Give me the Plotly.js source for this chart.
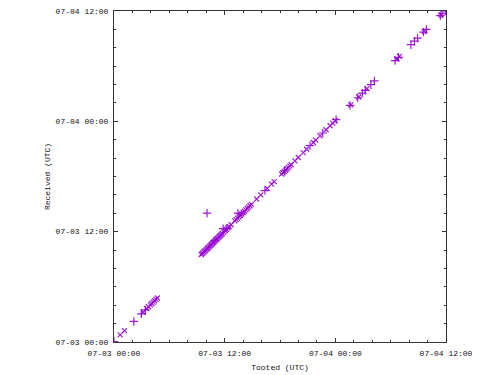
<!DOCTYPE html>
<html>
<head>
<meta charset="utf-8">
<script src="https://cdn.plot.ly/plotly-3.0.1.min.js"></script>
<style>html,body{margin:0;padding:0;background:#fff;}</style>
</head>
<body>
<div id="chart" style="width:500px;height:375px;"></div>
<script>
// Toots drawn with "+" marks
var plusTooted = [
  '2017-07-03 00:00','2017-07-03 02:09','2017-07-03 02:58','2017-07-03 03:24',
  '2017-07-03 10:05','2017-07-03 10:54','2017-07-03 11:50','2017-07-03 12:14',
  '2017-07-03 13:27','2017-07-03 13:50','2017-07-03 16:22','2017-07-03 18:30',
  '2017-07-03 21:15','2017-07-03 22:38','2017-07-04 00:05','2017-07-04 01:36',
  '2017-07-04 02:26','2017-07-04 02:56','2017-07-04 03:14','2017-07-04 03:51',
  '2017-07-04 04:14','2017-07-04 06:29','2017-07-04 06:51','2017-07-04 08:12',
  '2017-07-04 08:35','2017-07-04 08:55','2017-07-04 09:34','2017-07-04 09:52',
  '2017-07-04 11:23','2017-07-04 11:34','2017-07-04 11:55'
];
var plusReceived = [
  '2017-07-03 00:03','2017-07-03 02:14','2017-07-03 03:04','2017-07-03 03:29',
  '2017-07-03 14:01','2017-07-03 11:00','2017-07-03 12:20','2017-07-03 12:22',
  '2017-07-03 14:01','2017-07-03 13:56','2017-07-03 16:28','2017-07-03 18:36',
  '2017-07-03 21:21','2017-07-03 22:44','2017-07-04 00:11','2017-07-04 01:44',
  '2017-07-04 02:34','2017-07-04 03:04','2017-07-04 03:22','2017-07-04 03:59',
  '2017-07-04 04:24','2017-07-04 06:36','2017-07-04 06:58','2017-07-04 08:20',
  '2017-07-04 08:43','2017-07-04 09:03','2017-07-04 09:42','2017-07-04 10:00',
  '2017-07-04 11:30','2017-07-04 11:42','2017-07-04 12:00'
];
// Toots drawn with "x" marks
var crossTooted = [
  '2017-07-03 00:40','2017-07-03 01:08',
  '2017-07-03 03:09','2017-07-03 03:33','2017-07-03 03:45','2017-07-03 03:57','2017-07-03 04:06',
  '2017-07-03 04:15','2017-07-03 04:24','2017-07-03 04:33','2017-07-03 04:42',
  '2017-07-03 09:27','2017-07-03 09:33','2017-07-03 09:39','2017-07-03 09:45','2017-07-03 09:51',
  '2017-07-03 09:57','2017-07-03 10:03','2017-07-03 10:09','2017-07-03 10:15','2017-07-03 10:21',
  '2017-07-03 10:27','2017-07-03 10:33','2017-07-03 10:39','2017-07-03 10:45','2017-07-03 10:51',
  '2017-07-03 10:57','2017-07-03 11:03','2017-07-03 11:09','2017-07-03 11:15','2017-07-03 11:21',
  '2017-07-03 11:27','2017-07-03 11:33','2017-07-03 11:39','2017-07-03 11:45','2017-07-03 11:54',
  '2017-07-03 12:03','2017-07-03 12:12','2017-07-03 12:21','2017-07-03 12:30','2017-07-03 12:42',
  '2017-07-03 13:06','2017-07-03 13:15','2017-07-03 13:24','2017-07-03 13:33','2017-07-03 13:42',
  '2017-07-03 13:51','2017-07-03 14:00','2017-07-03 14:09','2017-07-03 14:18','2017-07-03 14:27',
  '2017-07-03 14:36','2017-07-03 14:45','2017-07-03 14:54',
  '2017-07-03 15:28','2017-07-03 15:55','2017-07-03 16:37','2017-07-03 17:05','2017-07-03 17:22',
  '2017-07-03 18:10','2017-07-03 18:19','2017-07-03 18:28','2017-07-03 18:37','2017-07-03 18:46',
  '2017-07-03 18:55','2017-07-03 19:04','2017-07-03 19:13',
  '2017-07-03 19:37','2017-07-03 19:59','2017-07-03 20:31','2017-07-03 20:53','2017-07-03 21:37',
  '2017-07-03 21:52','2017-07-03 22:20','2017-07-03 23:00','2017-07-03 23:26','2017-07-03 23:43',
  '2017-07-04 00:00','2017-07-04 01:40','2017-07-04 02:32','2017-07-04 03:26','2017-07-04 06:40',
  '2017-07-04 06:57','2017-07-04 09:38','2017-07-04 11:28'
];
var crossReceived = [
  '2017-07-03 00:46','2017-07-03 01:14',
  '2017-07-03 03:14','2017-07-03 03:38','2017-07-03 03:50','2017-07-03 04:02','2017-07-03 04:11',
  '2017-07-03 04:20','2017-07-03 04:29','2017-07-03 04:38','2017-07-03 04:47',
  '2017-07-03 09:30','2017-07-03 09:36','2017-07-03 09:42','2017-07-03 09:48','2017-07-03 09:54',
  '2017-07-03 10:00','2017-07-03 10:06','2017-07-03 10:12','2017-07-03 10:18','2017-07-03 10:24',
  '2017-07-03 10:30','2017-07-03 10:36','2017-07-03 10:42','2017-07-03 10:48','2017-07-03 10:54',
  '2017-07-03 11:00','2017-07-03 11:06','2017-07-03 11:12','2017-07-03 11:18','2017-07-03 11:24',
  '2017-07-03 11:30','2017-07-03 11:36','2017-07-03 11:42','2017-07-03 11:48','2017-07-03 11:57',
  '2017-07-03 12:06','2017-07-03 12:15','2017-07-03 12:24','2017-07-03 12:33','2017-07-03 12:45',
  '2017-07-03 13:10','2017-07-03 13:19','2017-07-03 13:28','2017-07-03 13:37','2017-07-03 13:46',
  '2017-07-03 13:55','2017-07-03 14:04','2017-07-03 14:13','2017-07-03 14:22','2017-07-03 14:31',
  '2017-07-03 14:40','2017-07-03 14:49','2017-07-03 14:58',
  '2017-07-03 15:33','2017-07-03 16:00','2017-07-03 16:42','2017-07-03 17:10','2017-07-03 17:27',
  '2017-07-03 18:15','2017-07-03 18:24','2017-07-03 18:33','2017-07-03 18:42','2017-07-03 18:51',
  '2017-07-03 19:00','2017-07-03 19:09','2017-07-03 19:18',
  '2017-07-03 19:42','2017-07-03 20:04','2017-07-03 20:36','2017-07-03 20:58','2017-07-03 21:42',
  '2017-07-03 21:57','2017-07-03 22:25','2017-07-03 23:05','2017-07-03 23:31','2017-07-03 23:48',
  '2017-07-04 00:05','2017-07-04 01:47','2017-07-04 02:39','2017-07-04 03:33','2017-07-04 06:47',
  '2017-07-04 07:04','2017-07-04 09:45','2017-07-04 11:35'
];
var axisRange = ['2017-07-03 00:00', '2017-07-04 12:00'];
var xTitle = 'Tooted (UTC)';
var yTitle = 'Received (UTC)';

var purple = 'rgb(148,0,211)';
var traces = [
  {x: crossTooted, y: crossReceived, type: 'scatter', mode: 'markers',
   marker: {symbol: 'x-thin-open', size: 5, color: purple, opacity: 0.9, line: {color: purple, width: 1.2}},
   showlegend: false, hoverinfo: 'skip'},
  {x: plusTooted, y: plusReceived, type: 'scatter', mode: 'markers',
   marker: {symbol: 'cross-thin-open', size: 6, color: purple, opacity: 0.9, line: {color: purple, width: 1.2}},
   showlegend: false, hoverinfo: 'skip'}
];
var tickFont = {family: 'Liberation Mono, DejaVu Sans Mono, monospace', size: 8, color: '#111'};
function axis(title, standoff) {
  return {
    type: 'date', range: axisRange, autorange: false,
    dtick: 43200000, tick0: '2017-07-03 00:00', tickformat: '%m-%d %H:%M',
    ticks: 'inside', ticklen: 4, tickwidth: 1, tickcolor: '#333',
    minor: {dtick: 7200000, ticks: 'inside', ticklen: 2, tickwidth: 1, tickcolor: '#333', showgrid: false},
    showline: true, linecolor: '#333', linewidth: 1, mirror: 'ticks',
    showgrid: false, zeroline: false, automargin: false,
    tickfont: tickFont, ticklabelstandoff: 3,
    title: {text: title, font: tickFont, standoff: standoff}
  };
}
var layout = {
  width: 500, height: 375,
  margin: {l: 114, r: 54, t: 11, b: 33},
  paper_bgcolor: '#fff', plot_bgcolor: '#fff',
  xaxis: axis(xTitle, 7),
  yaxis: axis(yTitle, 3),
  showlegend: false
};
Plotly.newPlot('chart', traces, layout, {staticPlot: true, displayModeBar: false});
</script>
</body>
</html>
